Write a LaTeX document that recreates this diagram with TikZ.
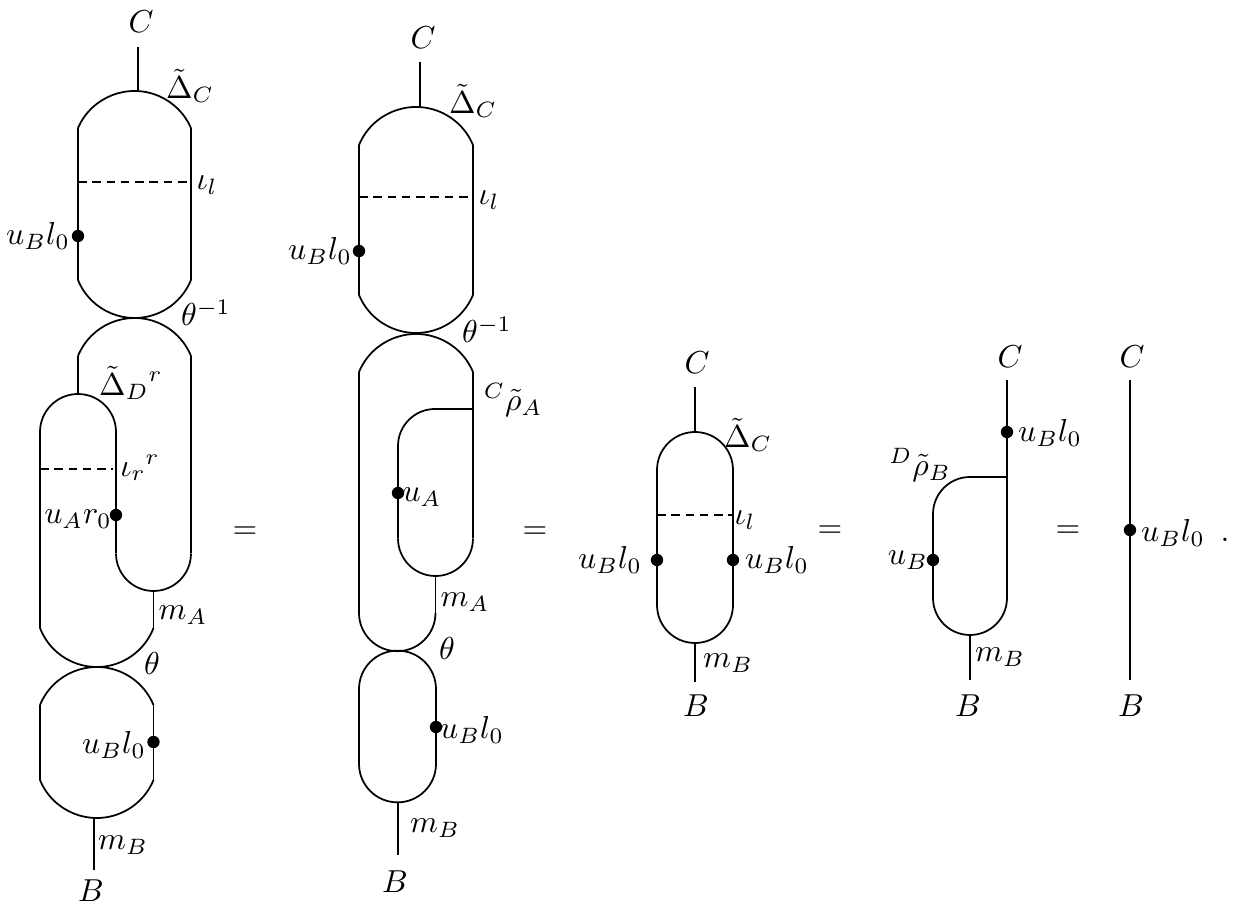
\documentclass[tikz,border=0pt]{standalone}
\newcommand\hump[4]{%
  \pgfmathsetmacro\hw{(#2-#1)/2}%
  \pgfmathsetmacro\rr{(\hw*\hw+#4*#4)/(2*#4)}%
  \pgfmathsetmacro\th{asin(min(1,\hw/\rr))}%
  \draw[wire] (#1,-#3) arc[start angle={90+\th},end angle={90-\th},radius=\rr];}
\newcommand\cupp[4]{%
  \pgfmathsetmacro\hw{(#2-#1)/2}%
  \pgfmathsetmacro\rr{(\hw*\hw+#4*#4)/(2*#4)}%
  \pgfmathsetmacro\th{asin(min(1,\hw/\rr))}%
  \draw[wire] (#1,-#3) arc[start angle={270-\th},end angle={270+\th},radius=\rr];}
\begin{document}
\begin{tikzpicture}[x=0.315pt,y=0.315pt,
  wire/.style={line width=0.55pt},
  dashline/.style={line width=0.55pt,dash pattern=on 2.7pt off 1.8pt},
  bead/.style={circle,fill,inner sep=0pt,minimum size=3.9pt},
  lab/.style={inner sep=0pt}]
\useasboundingbox (0,0) rectangle (1233,-913);

% ---------- diagram 1 ----------
\node[lab] (C1) at (141,-22) {$C$};
\draw[wire] (138,-47) -- (138,-91);
\hump{78}{191}{128}{37}
\draw[wire] (78,-128) -- (78,-280);
\draw[wire] (191,-128) -- (191,-280);
\cupp{78}{191}{280}{38}
\draw[dashline] (78,-182) -- (191,-182);
\node[bead] (d1a) at (78,-236) {};
\node[lab] (l1a) at (38,-236) {$u_Bl_0$};
\node[lab] (D1) at (190,-86) {$\tilde\Delta_C$};
\node[lab] (i1) at (207,-185) {$\iota_l$};
\node[lab] (t1) at (206,-313) {$\theta^{-1}$};
\hump{78}{191}{356}{38}
\draw[wire] (191,-356) -- (191,-553.5);
\draw[wire] (78,-356) -- (78,-394);
\hump{40}{116}{432}{38}
\draw[wire] (40,-432) -- (40,-628);
\draw[wire] (116,-432) -- (116,-553.5);
\cupp{116}{191}{553.5}{37.5}
\draw[wire] (153.5,-591) -- (153.5,-628);
\cupp{40}{153.5}{628}{39}
\draw[dashline] (40,-469) -- (113,-469);
\node[bead] (d1b) at (116,-515) {};
\node[lab] (l1b) at (78,-519) {$u_Ar_0$};
\node[lab] (DD1) at (131,-383) {$\tilde\Delta_D{\vphantom{\Delta}}^r$};
\node[lab] (ir1) at (140,-468) {${\iota_r}^r$};
\node[lab] (mA1) at (183,-615) {$m_A$};
\node[lab] (th1) at (152,-663) {$\theta$};
\hump{40}{153.5}{705}{38}
\draw[wire] (40,-705) -- (40,-780);
\draw[wire] (153.5,-705) -- (153.5,-780);
\cupp{40}{153.5}{780}{38}
\node[bead] (d1c) at (153.5,-742) {};
\node[lab] (l1c) at (114,-745) {$u_Bl_0$};
\draw[wire] (94,-818) -- (94,-870);
\node[lab] (mB1) at (123,-845) {$m_B$};
\node[lab] (B1) at (91,-891) {$B$};

\node (eq1) at (245,-533) {$=$};

% ---------- diagram 2 ----------
\node[lab] (C2) at (423,-38) {$C$};
\draw[wire] (420,-62) -- (420,-107);
\hump{359}{473}{145}{38}
\draw[wire] (359,-145) -- (359,-295);
\draw[wire] (473,-145) -- (473,-295);
\cupp{359}{473}{295}{38}
\draw[dashline] (359,-197) -- (473,-197);
\node[bead] (d2a) at (359,-251) {};
\node[lab] (l2a) at (320,-251) {$u_Bl_0$};
\node[lab] (D2) at (473,-101) {$\tilde\Delta_C$};
\node[lab] (i2) at (489,-200) {$\iota_l$};
\node[lab] (t2) at (487,-330) {$\theta^{-1}$};
\hump{359}{473}{372}{38}
\draw[wire] (473,-372) -- (473,-538.5);
\draw[wire] (359,-372) -- (359,-613);
\draw[wire] (473,-409) -- (435,-409) arc[start angle=90,end angle=180,radius=37] -- (398,-538.5);
\cupp{398}{473}{538.5}{37.5}
\draw[wire] (435.5,-576) -- (435.5,-613);
\cupp{359}{435.5}{613}{38}
\node[bead] (d2b) at (398,-493) {};
\node[lab] (l2b) at (422,-497) {$u_A$};
\node[lab] (rho2) at (513,-400) {${}^C\tilde\rho_A$};
\node[lab] (mA2) at (465,-602) {$m_A$};
\node[lab] (th2) at (447,-648) {$\theta$};
\hump{359}{436}{689}{38}
\draw[wire] (359,-689) -- (359,-764);
\draw[wire] (436,-689) -- (436,-764);
\cupp{359}{436}{764}{38}
\node[bead] (d2c) at (436,-727) {};
\node[lab] (l2c) at (472,-730) {$u_Bl_0$};
\draw[wire] (398,-802) -- (398,-855);
\node[lab] (mB2) at (435,-828) {$m_B$};
\node[lab] (B2) at (395,-882) {$B$};

\node (eq2) at (535,-533) {$=$};

% ---------- diagram 3 ----------
\node[lab] (C3) at (697,-363) {$C$};
\draw[wire] (695,-387) -- (695,-432);
\hump{657}{733}{470}{38}
\draw[wire] (657,-470) -- (657,-605);
\draw[wire] (733,-470) -- (733,-605);
\cupp{657}{733}{605}{38}
\draw[dashline] (657,-515) -- (733,-515);
\node[bead] (d3a) at (657,-560) {};
\node[bead] (d3b) at (733,-560) {};
\node[lab] (l3a) at (610,-560) {$u_Bl_0$};
\node[lab] (l3b) at (777,-560) {$u_Bl_0$};
\node[lab] (D3) at (748,-435) {$\tilde\Delta_C$};
\node[lab] (i3) at (745,-520) {$\iota_l$};
\draw[wire] (695,-643) -- (695,-682);
\node[lab] (mB3) at (728,-663) {$m_B$};
\node[lab] (B3) at (696,-706) {$B$};

\node (eq3) at (830,-532) {$=$};

% ---------- diagram 4 ----------
\node[lab] (C4) at (1010,-357) {$C$};
\draw[wire] (1007,-380) -- (1007,-598);
\node[bead] (d4a) at (1007,-432) {};
\node[lab] (l4a) at (1050,-433) {$u_Bl_0$};
\draw[wire] (1007,-477) -- (970,-477) arc[start angle=90,end angle=180,radius=37] -- (933,-598);
\cupp{933}{1007}{598}{37}
\node[bead] (d4b) at (933,-560) {};
\node[lab] (l4b) at (908,-560) {$u_B$};
\node[lab] (rho4) at (920,-465) {${}^D\tilde\rho_B$};
\draw[wire] (970,-635) -- (970,-680);
\node[lab] (mB4) at (1000,-657) {$m_B$};
\node[lab] (B4) at (968,-706) {$B$};

\node (eq4) at (1068,-532) {$=$};

% ---------- diagram 5 ----------
\node[lab] (C5) at (1132,-357) {$C$};
\draw[wire] (1130,-380) -- (1130,-680);
\node[bead] (d5) at (1130,-530) {};
\node[lab] (l5) at (1173,-533) {$u_Bl_0$};
\node[lab] (dot5) at (1225,-540) {$.$};
\node[lab] (B5) at (1131,-706) {$B$};
\end{tikzpicture}
\end{document}
